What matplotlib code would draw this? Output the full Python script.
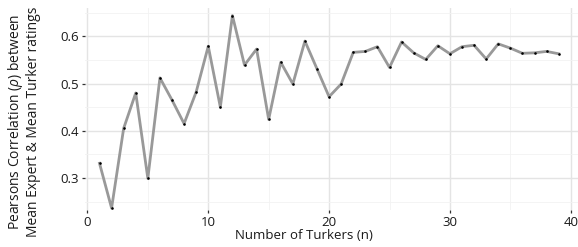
import matplotlib
matplotlib.use("Agg")
import matplotlib.pyplot as plt
from matplotlib.ticker import MultipleLocator

n_turkers = list(range(1, 40))
correlation = [0.331, 0.236, 0.405, 0.480, 0.299, 0.512, 0.465, 0.415, 0.482, 0.579,
               0.450, 0.644, 0.539, 0.573, 0.424, 0.545, 0.499, 0.590, 0.531, 0.472,
               0.499, 0.566, 0.568, 0.578, 0.534, 0.588, 0.565, 0.551, 0.580, 0.563,
               0.578, 0.581, 0.552, 0.584, 0.575, 0.564, 0.565, 0.568, 0.563]
x_ticks = [0, 10, 20, 30, 40]
y_ticks = [0.3, 0.4, 0.5, 0.6]

plt.rcParams['font.family'] = ['Open Sans', 'DejaVu Sans']
plt.rcParams['mathtext.fontset'] = 'custom'
plt.rcParams['mathtext.it'] = 'Open Sans:italic'

W, H = 578, 247
fig = plt.figure(figsize=(W/100, H/100), dpi=100)
ax = fig.add_axes([85/W, 1 - 210/H, 1 - 85/W, (210 - 8)/H])

ax.plot(n_turkers, correlation, color='#999999', lw=2.0, zorder=3)
ax.scatter(n_turkers, correlation, s=3.5, color='black', zorder=4, linewidths=0)

ax.set_xlim(-0.2, 40.6)
ax.set_ylim(0.232, 0.66)
ax.set_xticks(x_ticks)
ax.set_yticks(y_ticks)
ax.xaxis.set_minor_locator(MultipleLocator(5))
ax.yaxis.set_minor_locator(MultipleLocator(0.05))
ax.grid(which='major', color='#e4e4e4', lw=1.0)
ax.grid(which='minor', color='#f2f2f2', lw=0.6)
ax.set_axisbelow(True)
for s in ax.spines.values():
    s.set_visible(False)
ax.tick_params(which='major', length=2.5, width=0.9, color='#333333', labelsize=9.5,
               labelcolor='#1a1a1a', pad=2)
ax.tick_params(which='minor', length=0)

fig.text(304/W, 1 - 235/H, 'Number of Turkers (n)', fontsize=9.5, ha='center', va='center',
         color='#1a1a1a')
ax.set_ylabel('Pearsons Correlation ($\\rho$) between\nMean Expert & Mean Turker ratings',
              fontsize=10.0, color='#1a1a1a', linespacing=1.05)
ax.yaxis.set_label_coords(-(85 - 41) / (W - 85), (210 - 122) / 202)

fig.savefig('out.png', dpi=100)
